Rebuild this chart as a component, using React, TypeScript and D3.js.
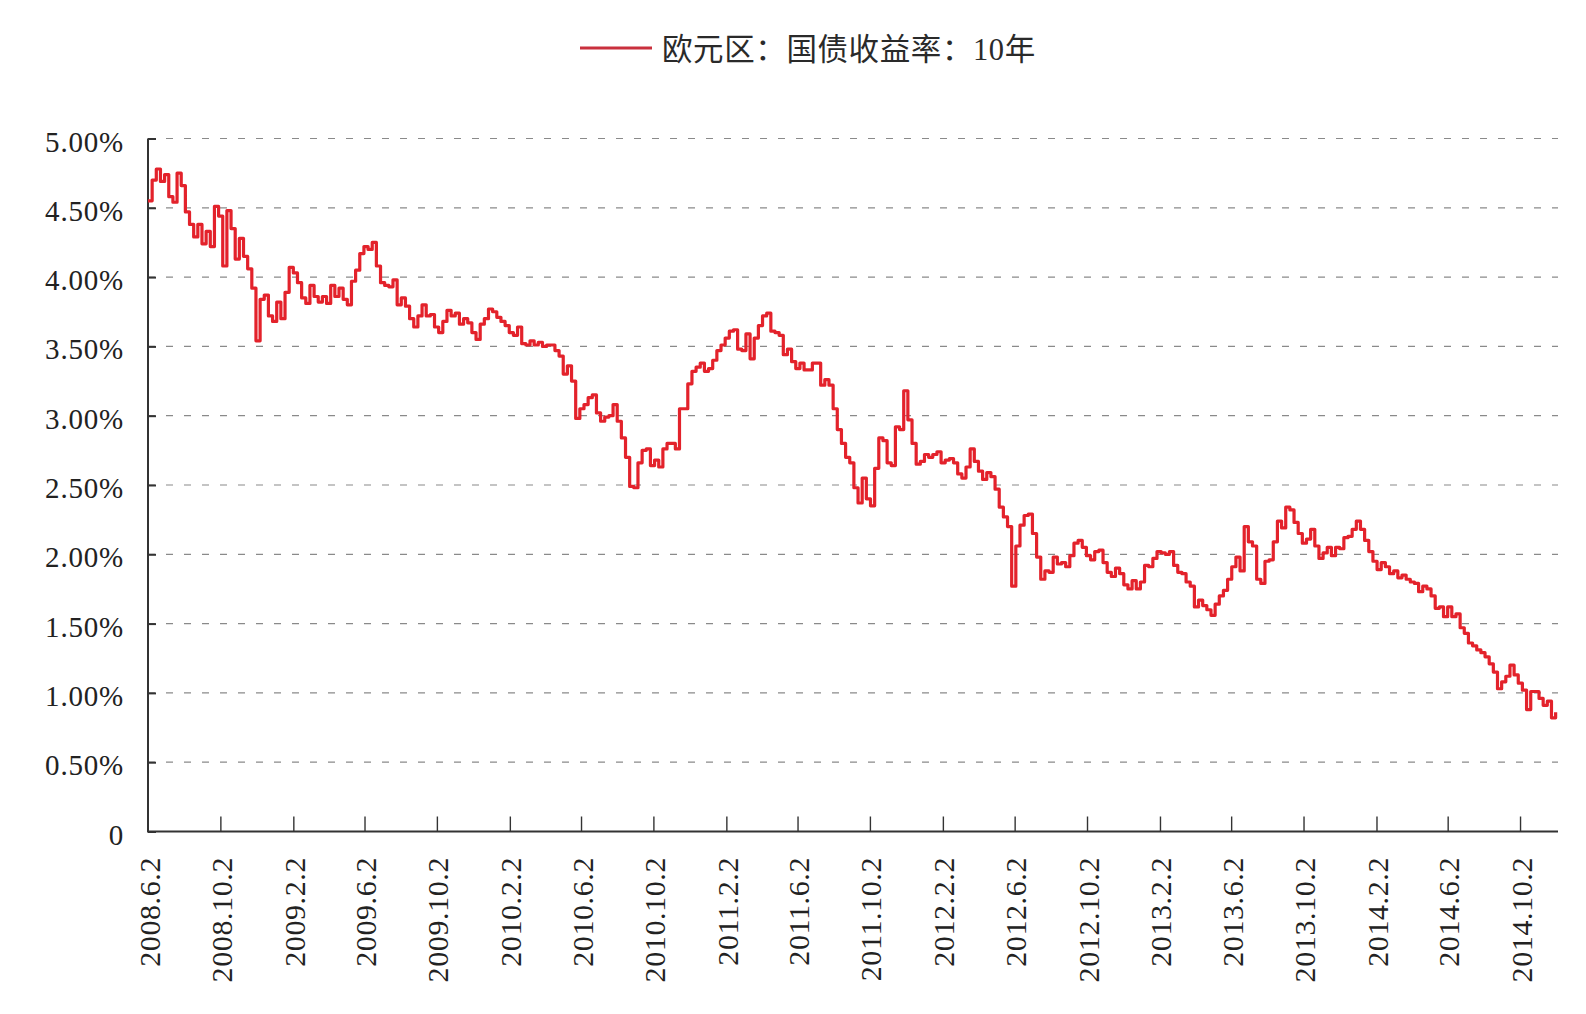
import React, { useEffect, useRef } from 'react';
import * as d3 from 'd3';

// weekly closing yield (%), first week starting 2008-06-02
const startDate = '2008-06-02';
const endDate = '2014-12-05';
const seriesName = '欧元区：国债收益率：10年';

const weeklyYield = [
  4.55, 4.70, 4.78, 4.69, 4.74, 4.58, 4.54, 4.75, 4.66, 4.47,
  4.38, 4.29, 4.38, 4.24, 4.33, 4.22, 4.51, 4.44, 4.08, 4.48,
  4.35, 4.13, 4.28, 4.15, 4.06, 3.92, 3.54, 3.84, 3.87, 3.72,
  3.68, 3.82, 3.70, 3.89, 4.07, 4.03, 3.96, 3.85, 3.81, 3.94,
  3.86, 3.82, 3.86, 3.81, 3.94, 3.86, 3.92, 3.84, 3.80, 3.97,
  4.05, 4.17, 4.22, 4.20, 4.25, 4.08, 3.96, 3.94, 3.93, 3.98,
  3.80, 3.85, 3.79, 3.70, 3.64, 3.72, 3.80, 3.72, 3.73, 3.64,
  3.60, 3.68, 3.76, 3.72, 3.74, 3.66, 3.70, 3.67, 3.60, 3.55,
  3.66, 3.70, 3.77, 3.75, 3.71, 3.68, 3.65, 3.60, 3.58, 3.64,
  3.52, 3.51, 3.54, 3.51, 3.53, 3.50, 3.51, 3.51, 3.47, 3.43,
  3.30, 3.36, 3.25, 2.98, 3.05, 3.08, 3.13, 3.15, 3.02, 2.96,
  2.99, 3.00, 3.08, 2.96, 2.84, 2.70, 2.49, 2.48, 2.66, 2.75,
  2.76, 2.64, 2.68, 2.63, 2.76, 2.80, 2.80, 2.76, 3.05, 3.05,
  3.23, 3.32, 3.35, 3.38, 3.32, 3.34, 3.40, 3.47, 3.51, 3.56,
  3.61, 3.62, 3.48, 3.47, 3.59, 3.41, 3.56, 3.65, 3.72, 3.74,
  3.61, 3.60, 3.58, 3.44, 3.48, 3.39, 3.34, 3.38, 3.33, 3.33,
  3.38, 3.38, 3.22, 3.26, 3.22, 3.05, 2.90, 2.80, 2.70, 2.66,
  2.48, 2.37, 2.55, 2.40, 2.35, 2.62, 2.84, 2.82, 2.66, 2.64,
  2.92, 2.90, 3.18, 2.97, 2.80, 2.65, 2.67, 2.72, 2.70, 2.72,
  2.74, 2.66, 2.68, 2.69, 2.66, 2.58, 2.55, 2.63, 2.76, 2.67,
  2.60, 2.54, 2.59, 2.56, 2.47, 2.34, 2.27, 2.20, 1.77, 2.06,
  2.21, 2.28, 2.29, 2.15, 1.98, 1.82, 1.88, 1.87, 1.98, 1.93,
  1.94, 1.91, 1.99, 2.08, 2.10, 2.05, 1.99, 1.96, 2.02, 2.03,
  1.94, 1.87, 1.84, 1.90, 1.86, 1.78, 1.75, 1.81, 1.75, 1.80,
  1.92, 1.91, 1.97, 2.02, 2.01, 2.00, 2.02, 1.92, 1.87, 1.86,
  1.80, 1.77, 1.62, 1.67, 1.63, 1.60, 1.56, 1.64, 1.70, 1.74,
  1.82, 1.91, 1.98, 1.88, 2.20, 2.09, 2.06, 1.82, 1.79, 1.95,
  1.96, 2.09, 2.24, 2.19, 2.34, 2.32, 2.23, 2.15, 2.08, 2.11,
  2.18, 2.06, 1.97, 2.01, 2.05, 1.99, 2.05, 2.04, 2.12, 2.13,
  2.18, 2.24, 2.18, 2.10, 2.02, 1.95, 1.89, 1.94, 1.91, 1.86,
  1.88, 1.83, 1.85, 1.82, 1.80, 1.79, 1.73, 1.77, 1.75, 1.70,
  1.61, 1.62, 1.55, 1.62, 1.55, 1.57, 1.47, 1.43, 1.36, 1.34,
  1.31, 1.29, 1.26, 1.21, 1.15, 1.03, 1.08, 1.12, 1.20, 1.13,
  1.07, 1.02, 0.88, 1.01, 1.01, 0.96, 0.91, 0.94, 0.82, 0.86,
];

const xTickLabels = [
  '2008.6.2', '2008.10.2', '2009.2.2', '2009.6.2', '2009.10.2', '2010.2.2',
  '2010.6.2', '2010.10.2', '2011.2.2', '2011.6.2', '2011.10.2', '2012.2.2',
  '2012.6.2', '2012.10.2', '2013.2.2', '2013.6.2', '2013.10.2', '2014.2.2',
  '2014.6.2', '2014.10.2',
];

const yTicks = [0, 0.5, 1, 1.5, 2, 2.5, 3, 3.5, 4, 4.5, 5];

const RED = '#e3222b';
const serif = "'Liberation Serif', 'Times New Roman', serif";

const App = () => {
  const svgRef = useRef(null);

  useEffect(() => {
    const width = 1586;
    const height = 1014;
    const left = 148;
    const right = 1558;
    const top = 138.5;
    const bottom = 831.5;

    const parseDay = d3.timeParse('%Y-%m-%d');
    const parseTick = d3.timeParse('%Y.%m.%d');
    const start = parseDay(startDate);

    const data = weeklyYield.map((v, i) => ({ date: d3.timeDay.offset(start, i * 7), value: v }));

    const x = d3.scaleTime()
      .domain([start, parseDay(endDate)])
      .range([left, right]);

    const y = d3.scaleLinear()
      .domain([0, 5])
      .range([bottom, top]);

    const svg = d3.select(svgRef.current)
      .attr('width', width)
      .attr('height', height);
    svg.selectAll('*').remove();

    // dashed grid
    svg.append('g')
      .selectAll('line')
      .data(yTicks.filter(t => t > 0))
      .enter()
      .append('line')
      .attr('x1', left)
      .attr('x2', right)
      .attr('y1', d => y(d))
      .attr('y2', d => y(d))
      .attr('stroke', '#8a8a8a')
      .attr('stroke-width', 1.2)
      .attr('stroke-dasharray', '7 11');

    // y axis
    const yAxis = svg.append('g')
      .attr('transform', `translate(${left},0)`)
      .call(d3.axisRight(y).tickValues(yTicks).tickSize(8).tickFormat(() => ''));
    yAxis.select('.domain').attr('stroke', '#333').attr('stroke-width', 2).attr('d', `M0,${top}V${bottom}`);
    yAxis.selectAll('.tick line').attr('stroke', '#333').attr('stroke-width', 2);

    svg.append('g')
      .selectAll('text')
      .data(yTicks)
      .enter()
      .append('text')
      .attr('x', 124)
      .attr('y', d => y(d) + 3)
      .attr('text-anchor', 'end')
      .attr('dominant-baseline', 'central')
      .style('font-family', serif)
      .style('font-size', '29px')
      .style('letter-spacing', '0.8px')
      .style('fill', '#222')
      .text(d => (d === 0 ? '0' : d.toFixed(2) + '%'));

    // x axis
    const tickDates = xTickLabels.map(s => parseTick(s));
    const xAxis = svg.append('g')
      .attr('transform', `translate(0,${bottom})`)
      .call(d3.axisTop(x).tickValues(tickDates.slice(1)).tickSize(15).tickFormat(() => ''));
    xAxis.select('.domain').attr('stroke', '#333').attr('stroke-width', 2).attr('d', `M${left - 1},0H${right}`);
    xAxis.selectAll('.tick line').attr('stroke', '#333').attr('stroke-width', 1.4);

    svg.append('g')
      .selectAll('text')
      .data(xTickLabels)
      .enter()
      .append('text')
      .attr('transform', (d, i) => `translate(${x(tickDates[i]) + 1},857) rotate(-90)`)
      .attr('text-anchor', 'end')
      .attr('dominant-baseline', 'central')
      .style('font-family', serif)
      .style('font-size', '30px')
      .style('letter-spacing', '0.6px')
      .style('fill', '#222')
      .text(d => d);

    // series: weekly points drawn as steps, like the dense daily trace
    const line = d3.line()
      .x(d => x(d.date))
      .y(d => y(d.value))
      .curve(d3.curveStepAfter);

    svg.append('path')
      .datum(data)
      .attr('d', line)
      .attr('fill', 'none')
      .attr('stroke', RED)
      .attr('stroke-width', 3.2)
      .attr('stroke-linejoin', 'round');

    // legend
    const legend = svg.append('g');
    legend.append('line')
      .attr('x1', 580)
      .attr('x2', 652)
      .attr('y1', 48)
      .attr('y2', 48)
      .attr('stroke', '#c9303d')
      .attr('stroke-width', 3);
    legend.append('text')
      .attr('x', 662)
      .attr('y', 50)
      .attr('dominant-baseline', 'central')
      .style('font-family', "'Liberation Serif', 'Noto Sans CJK SC', serif")
      .style('font-size', '30.5px')
      .style('letter-spacing', '0.6px')
      .style('fill', '#2a2a2a')
      .text(seriesName);
  }, []);

  return (
    <div style={{ position: 'absolute', top: 0, left: 0, width: 1586, height: 1014, overflow: 'hidden', background: '#fff' }}>
      <style>{`body { margin: 0; }`}</style>
      <svg ref={svgRef} style={{ display: 'block' }}></svg>
    </div>
  );
};

export default App;
